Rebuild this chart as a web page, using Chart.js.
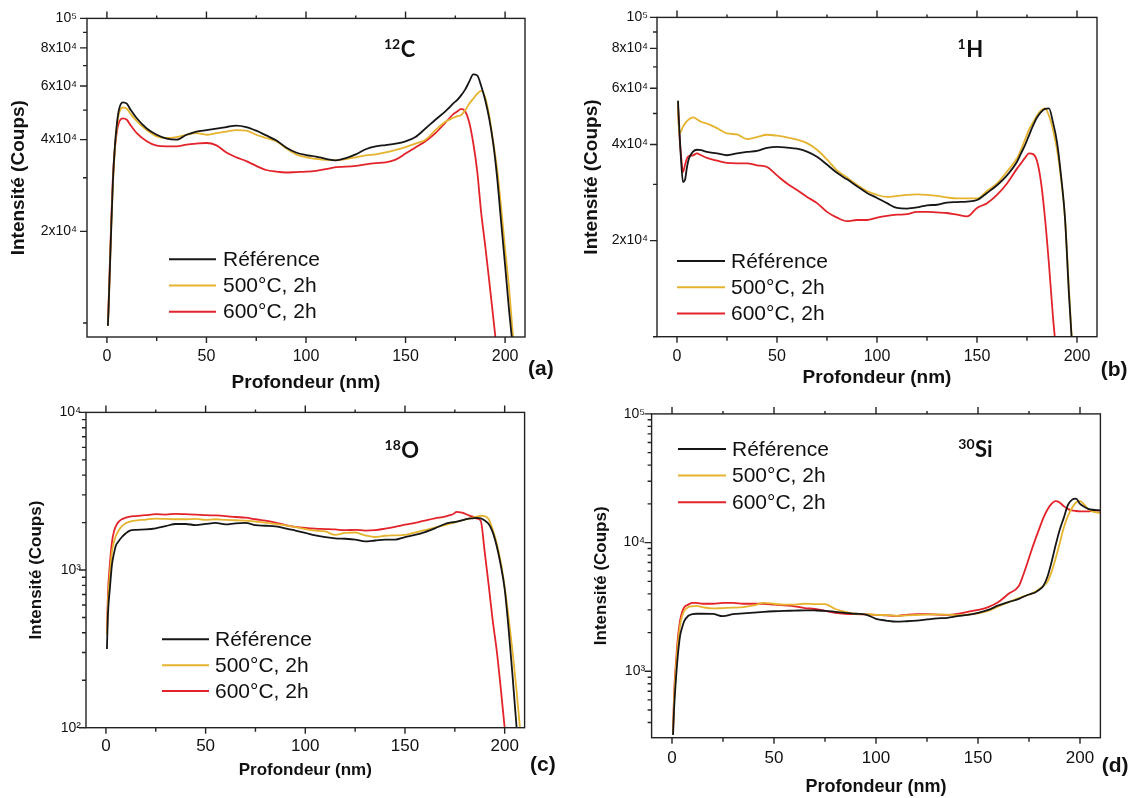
<!DOCTYPE html>
<html>
<head>
<meta charset="utf-8">
<script src="https://cdn.jsdelivr.net/npm/chart.js@4.4.1/dist/chart.umd.min.js"></script>
<style>
  html, body { margin: 0; padding: 0; background: #fff; }
  #wrap { position: relative; width: 1134px; height: 798px; overflow: hidden; }
  canvas { position: absolute; }
</style>
</head>
<body>
<div id="wrap">
  <canvas id="panelA" width="560" height="399" style="left:0;top:0"></canvas>
  <canvas id="panelB" width="574" height="399" style="left:560px;top:0"></canvas>
  <canvas id="panelC" width="560" height="399" style="left:0;top:399px"></canvas>
  <canvas id="panelD" width="574" height="399" style="left:560px;top:399px"></canvas>
</div>
<script>
// profondeur (nm), grille commune aux 4 profils
const depth = [0.5, 1, 2, 3, 4, 5, 6, 8, 10, 12, 15,
  20, 25, 30, 35, 40, 45, 50, 55, 60, 65, 70, 75, 80, 85, 90, 95, 100, 105, 110, 115, 120, 125, 130, 135, 140, 145, 150, 155, 160, 165,
  170, 172, 174, 176, 178, 180, 182, 184, 186, 188, 190, 192, 194, 196, 198, 200, 202, 204, 206, 208, 210];

const seriesLabels = ["Référence", "500°C, 2h", "600°C, 2h"];
const seriesColors = ["#161616", "#e6b32e", "#e3232a"];

// (a) 12C
const refC = [9800, 12000, 19000, 29000, 38000, 45000, 50000, 53000, 52500, 50000, 47000,
  43500, 41500, 40300, 40000, 41500, 42500, 43000, 43500, 44000, 44500, 44000, 42800, 41300, 39800, 37700, 36300, 35600, 35200, 34600, 34200, 34800, 35800, 37200, 38000, 38400, 38800, 39500, 40800, 43500, 46500,
  49500, 51000, 52600, 54000, 56000, 58500, 62000, 65500, 65000, 60000, 54000, 47000, 39000, 30000, 21500, 15500, 11000, 8200, null, null, null];
const c500C = [9800, 12000, 19000, 28500, 37000, 44000, 48500, 51000, 50500, 48500, 46000,
  43000, 41000, 40500, 40800, 41500, 42000, 41500, 42000, 42500, 43000, 42800, 41500, 40500, 39500, 37500, 35800, 35000, 34600, 34300, 34200, 34500, 35000, 35500, 35800, 36300, 37000, 37800, 38800, 40000, 43000,
  45800, 46500, 47200, 47800, 48200, 50000, 52500, 54500, 56500, 57800, 55000, 48000, 39500, 32000, 24000, 17500, 13000, 9000, 6500, null, null];
const c600C = [9800, 12500, 20000, 30000, 37500, 42500, 45500, 47000, 46500, 44500, 42000,
  39500, 38200, 38000, 38000, 38500, 38800, 39000, 38300, 36300, 35000, 34000, 32800, 31800, 31400, 31200, 31300, 31400, 31600, 32000, 32500, 32600, 32800, 33200, 33500, 33700, 34400, 36000, 37700, 39500, 42000,
  45500, 47000, 48500, 49500, 50500, 49500, 45500, 39000, 31500, 23000, 18000, 13800, 10500, 8000, null, null, null, null, null, null, null];

// (b) 1H
const refH = [54800, 47000, 36000, 30500, 31000, 34000, 36200, 38000, 38500, 38400, 37900,
  37500, 37000, 37500, 37900, 38200, 39000, 39300, 39100, 38800, 38000, 36600, 34600, 32600, 31100, 29600, 28200, 27200, 26200, 25300, 25200, 25400, 25800, 25900, 26300, 26400, 26500, 26800, 28200, 29800, 32000,
  35300, 37500, 39800, 42700, 45800, 48600, 50500, 51700, 51900, 46900, 40700, 32000, 23500, 13500, 8500, null, null, null, null, null, null];
const c500H = [54800, 43300, 44000, 45500, 46500, 47300, 48000, 48600, 48000, 47100, 46500,
  45000, 43300, 43000, 41600, 42200, 42900, 42600, 42100, 41400, 40400, 38500, 35900, 33200, 31500, 29900, 28600, 27800, 27400, 27600, 27800, 27900, 27800, 27600, 27300, 27100, 27100, 27100, 28600, 30200, 32900,
  36200, 38500, 41400, 44500, 46900, 49200, 51100, 51900, 49200, 44500, 38600, 31300, 23500, 14000, 8500, null, null, null, null, null, null];
const c600H = [52800, 45000, 37000, 32800, 34500, 36200, 36800, 37000, 37500, 37000, 36300,
  35600, 35000, 34900, 34900, 34400, 34000, 32000, 30200, 28800, 27400, 26200, 24600, 23600, 23000, 23200, 23200, 23600, 23900, 24100, 24200, 24600, 24600, 24500, 24400, 24100, 23800, 25300, 26200, 27800, 30200,
  33600, 34900, 36300, 37500, 37300, 35500, 30500, 23500, 16800, 11500, 8500, null, null, null, null, null, null, null, null, null, null];

// (c) 18O
const refO = [316, 520, 770, 1075, 1270, 1430, 1500, 1620, 1710, 1780, 1800,
  1810, 1840, 1900, 1960, 1960, 1930, 1960, 1990, 1950, 1980, 1990, 1930, 1910, 1890, 1840, 1780, 1720, 1660, 1620, 1590, 1580, 1560, 1520, 1540, 1560, 1560, 1620, 1670, 1740, 1840,
  1960, 1990, 2010, 2030, 2060, 2090, 2120, 2130, 2140, 2130, 2060, 1960, 1740, 1420, 1080, 760, 420, 210, 100, 55, null];
const c500O = [390, 620, 950, 1300, 1500, 1650, 1750, 1900, 1980, 2030, 2060,
  2090, 2120, 2110, 2100, 2100, 2110, 2080, 2100, 2080, 2070, 2060, 2030, 2000, 1960, 1920, 1870, 1820, 1780, 1760, 1670, 1720, 1730, 1660, 1620, 1650, 1660, 1670, 1730, 1790, 1860,
  1930, 1960, 1990, 2020, 2060, 2090, 2120, 2150, 2180, 2210, 2200, 2100, 1800, 1480, 1130, 780, 500, 300, 170, 90, 50];
const c600O = [400, 700, 1100, 1500, 1750, 1900, 2000, 2100, 2150, 2180, 2200,
  2230, 2260, 2250, 2270, 2260, 2250, 2230, 2220, 2200, 2170, 2150, 2100, 2060, 2000, 1930, 1880, 1850, 1830, 1820, 1810, 1790, 1800, 1780, 1790, 1830, 1880, 1940, 1990, 2060, 2130,
  2180, 2220, 2260, 2340, 2320, 2280, 2220, 2180, 2120, 2050, 1300, 800, 480, 310, 180, 100, 60, null, null, null, null];

// (d) 30Si
const refSi = [320, 500, 900, 1400, 1900, 2200, 2450, 2700, 2780, 2800, 2800,
  2790, 2680, 2780, 2820, 2860, 2900, 2930, 2950, 2960, 2980, 2970, 2950, 2900, 2850, 2800, 2760, 2560, 2480, 2430, 2450, 2480, 2530, 2580, 2600, 2680, 2740, 2850, 3000, 3250, 3450,
  3650, 3780, 3900, 4000, 4100, 4300, 4600, 5400, 7000, 9500, 12500, 15500, 19500, 21500, 22000, 20000, 19000, 18300, 18000, 17900, 17800];
const c500Si = [330, 600, 1100, 1700, 2300, 2700, 2950, 3150, 3200, 3220, 3150,
  3080, 3100, 3120, 3150, 3250, 3400, 3350, 3300, 3300, 3350, 3330, 3330, 3050, 2900, 2800, 2780, 2750, 2730, 2700, 2720, 2740, 2760, 2770, 2760, 2730, 2760, 2820, 2950, 3200, 3450,
  3700, 3800, 3900, 4000, 4150, 4350, 4600, 4950, 5900, 7500, 9800, 13000, 16000, 18500, 20500, 21000, 19800, 18300, 17500, 17200, 17000];
const c600Si = [330, 650, 1200, 1900, 2500, 2900, 3150, 3300, 3400, 3400, 3350,
  3350, 3400, 3400, 3350, 3350, 3350, 3300, 3250, 3200, 3100, 3050, 2950, 2850, 2800, 2780, 2770, 2750, 2720, 2700, 2750, 2780, 2780, 2760, 2750, 2800, 2900, 3000, 3150, 3450, 4000,
  4600, 5500, 6800, 8500, 10500, 12800, 15500, 18000, 20000, 21000, 20500, 19200, 18300, 17800, 17600, 17500, 17500, 17500, 17600, 17700, 17800];

// ticks
const xTicks = [0, 25, 50, 75, 100, 125, 150, 175, 200];
const yTicksAB = [10000, 20000, 30000, 40000, 50000, 60000, 70000, 80000, 90000, 100000];
const yLabelsAB = [20000, 40000, 60000, 80000, 100000];
const yTicksC = [100, 200, 300, 400, 500, 600, 700, 800, 900, 1000, 2000, 3000, 4000, 5000, 6000, 7000, 8000, 9000, 10000];
const yLabelsC = [100, 1000, 10000];
const yTicksD = [400, 500, 600, 700, 800, 900, 1000, 2000, 3000, 4000, 5000, 6000, 7000, 8000, 9000, 10000,
  20000, 30000, 40000, 50000, 60000, 70000, 80000, 90000, 100000];
const yLabelsD = [1000, 10000, 100000];

const FONT = "'Liberation Sans', Arial, Helvetica, sans-serif";
const SUP = { "0": "⁰", "1": "¹", "2": "²", "3": "³", "4": "⁴", "5": "⁵", "6": "⁶", "7": "⁷", "8": "⁸", "9": "⁹" };

function expLabel(v) {
  const e = Math.floor(Math.log10(v) + 1e-9);
  const m = Math.round(v / Math.pow(10, e));
  const sup = String(e).split("").map(c => SUP[c]).join("");
  return m === 1 ? "10" + sup : m + "x10" + sup;
}

// cadre, graduations, légende, étiquettes
const decoPlugin = {
  id: "deco",
  afterDraw(chart, args, o) {
    const ctx = chart.ctx;
    const a = chart.chartArea;
    const xs = chart.scales.x, ys = chart.scales.y;
    ctx.save();
    ctx.strokeStyle = "#222";
    ctx.lineWidth = 1.4;
    ctx.strokeRect(a.left, a.top, a.right - a.left, a.bottom - a.top);
    ctx.beginPath();
    xTicks.forEach(v => {
      const px = xs.getPixelForValue(v);
      const major = v % 50 === 0;
      ctx.moveTo(px, a.bottom); ctx.lineTo(px, a.bottom + (major ? 6 : 4));
      ctx.moveTo(px, a.top); ctx.lineTo(px, a.top - (major ? 7 : 3));
    });
    ys.ticks.forEach(t => {
      const py = ys.getPixelForValue(t.value);
      const len = t.label ? 7 : 4;
      ctx.moveTo(a.left, py); ctx.lineTo(a.left - len, py);
    });
    ctx.stroke();

    // légende
    const lg = o.legend;
    ctx.font = "21px " + FONT;
    ctx.textBaseline = "middle";
    ctx.textAlign = "left";
    chart.data.datasets.forEach((ds, i) => {
      const y = lg.y + i * lg.dy;
      ctx.strokeStyle = ds.borderColor;
      ctx.lineWidth = 2;
      ctx.beginPath();
      ctx.moveTo(lg.x0, y); ctx.lineTo(lg.x1, y);
      ctx.stroke();
      ctx.fillStyle = "#111";
      ctx.fillText(ds.label, lg.tx, y + 1);
    });

    // isotope
    const el = o.element;
    ctx.fillStyle = "#111";
    ctx.textBaseline = "alphabetic";
    ctx.font = "bold 14px Lato, " + FONT;
    ctx.fillText(el.sup, el.x, el.y - 8);
    const w = ctx.measureText(el.sup).width;
    ctx.font = "bold 22px Lato, " + FONT;
    ctx.fillText(el.base, el.x + w + 0.5, el.y);

    // lettre du panneau
    ctx.font = "bold 21px " + FONT;
    ctx.textBaseline = "middle";
    ctx.fillText(o.letter.text, o.letter.x, o.letter.y);
    ctx.restore();
  }
};

const panels = [
  { id: "panelA", W: 560, H: 399, L: 87, R: 525, T: 17, B: 337,
    yMin: 9000, yMax: 100000, yTicks: yTicksAB, yLabels: yLabelsAB, series: [refC, c500C, c600C],
    xTickSize: 16, xPad: 10, xTitleSize: 19, xTitlePad: 5, yTickSize: 14, yPad: 10, yTitleSize: 19, yTitlePad: 7.6,
    legend: { x0: 169, x1: 216, tx: 223, y: 259.3, dy: 26.2 },
    element: { sup: "12", base: "C", x: 384, y: 57 },
    letter: { text: "(a)", x: 528, y: 369 } },
  { id: "panelB", W: 574, H: 399, L: 97, R: 537, T: 13.3, B: 336.7,
    yMin: 10000, yMax: 100000, yTicks: yTicksAB, yLabels: yLabelsAB, series: [refH, c500H, c600H],
    xTickSize: 16, xPad: 10, xTitleSize: 19, xTitlePad: 9.6, yTickSize: 14, yPad: 9, yTitleSize: 19, yTitlePad: 20.6,
    legend: { x0: 117, x1: 165, tx: 171, y: 261, dy: 26.2 },
    element: { sup: "1", base: "H", x: 397.6, y: 57 },
    letter: { text: "(b)", x: 540.7, y: 370 } },
  { id: "panelC", W: 560, H: 399, L: 86, R: 524.6, T: 9.3, B: 328.7,
    yMin: 100, yMax: 10000, yTicks: yTicksC, yLabels: yLabelsC, series: [refO, c500O, c600O],
    xTickSize: 17, xPad: 8.8, xTitleSize: 17, xTitlePad: 17.8, yTickSize: 14, yPad: 5, yTitleSize: 17, yTitlePad: 25.8,
    legend: { x0: 162, x1: 209, tx: 215, y: 240.3, dy: 25.9 },
    element: { sup: "18", base: "O", x: 384.6, y: 59.3 },
    letter: { text: "(c)", x: 530, y: 366 } },
  { id: "panelD", W: 574, H: 399, L: 91.6, R: 540.4, T: 7.7, B: 338.7,
    yMin: 305, yMax: 100000, yTicks: yTicksD, yLabels: yLabelsD, series: [refSi, c500Si, c600Si],
    xTickSize: 17, xPad: 10, xTitleSize: 18, xTitlePad: 0.5, yTickSize: 14, yPad: 6.5, yTitleSize: 17, yTitlePad: 30.8,
    legend: { x0: 118, x1: 166, tx: 172, y: 50, dy: 26.6 },
    element: { sup: "30", base: "Si", x: 398.3, y: 57.7 },
    letter: { text: "(d)", x: 541.7, y: 367 } }
];

Chart.defaults.font.family = FONT;
Chart.defaults.color = "#111";

panels.forEach(p => {
  new Chart(document.getElementById(p.id), {
    type: "line",
    data: {
      datasets: p.series.map((vals, i) => ({
        label: seriesLabels[i],
        data: depth.map((d, k) => ({ x: d, y: vals[k] })),
        borderColor: seriesColors[i],
        borderWidth: 1.8,
        pointRadius: 0,
        fill: false,
        cubicInterpolationMode: "monotone",
        spanGaps: false
      }))
    },
    options: {
      responsive: false,
      animation: false,
      layout: { padding: { left: 0, top: p.T, right: p.W - p.R, bottom: 0 } },
      plugins: {
        legend: { display: false },
        tooltip: { enabled: false },
        deco: { legend: p.legend, element: p.element, letter: p.letter }
      },
      scales: {
        x: {
          type: "linear", min: -10, max: 210,
          afterBuildTicks: s => { s.ticks = xTicks.map(v => ({ value: v })); },
          afterFit: s => { s.height = p.H - p.B; },
          grid: { display: false, drawTicks: false },
          border: { display: false },
          ticks: {
            autoSkip: false, maxRotation: 0, padding: p.xPad,
            font: { size: p.xTickSize },
            callback: v => (v % 50 === 0 ? String(v) : "")
          },
          title: {
            display: true, text: "Profondeur (nm)",
            font: { size: p.xTitleSize, weight: "bold" },
            padding: { top: 0, bottom: p.xTitlePad }
          }
        },
        y: {
          type: "logarithmic", min: p.yMin, max: p.yMax,
          afterBuildTicks: s => { s.ticks = p.yTicks.map(v => ({ value: v })); },
          afterFit: s => { s.width = p.L; },
          grid: { display: false, drawTicks: false },
          border: { display: false },
          ticks: {
            autoSkip: false, padding: p.yPad,
            font: { size: p.yTickSize },
            callback: v => (p.yLabels.includes(v) ? expLabel(v) : "")
          },
          title: {
            display: true, text: "Intensité (Coups)",
            font: { size: p.yTitleSize, weight: "bold" },
            padding: { top: p.yTitlePad, bottom: 0 }
          }
        }
      }
    },
    plugins: [decoPlugin]
  });
});
</script>
</body>
</html>
